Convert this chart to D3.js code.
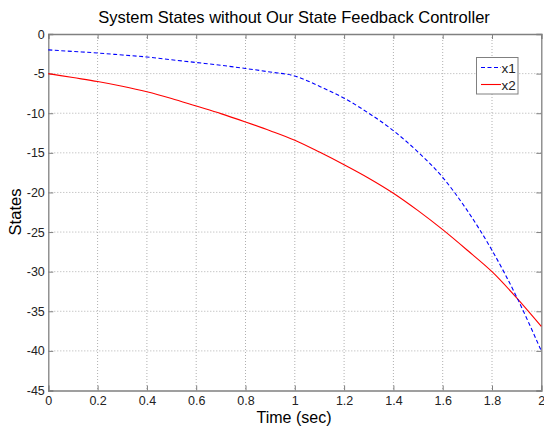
<!DOCTYPE html>
<html><head><meta charset="utf-8">
<script src="https://cdn.jsdelivr.net/npm/d3@7"></script>
<style>body{margin:0;background:#fff;} svg{display:block;font-family:"Liberation Sans",Arial,sans-serif;}</style>
</head><body>
<svg id="c" width="544" height="428"></svg>
<script>
const title = "System States without Our State Feedback Controller";
const xLabel = "Time (sec)";
const yLabel = "States";
const seriesNames = ["x1", "x2"];
const time = [0, 0.1, 0.2, 0.3, 0.4, 0.5, 0.6, 0.7, 0.8, 0.9, 1.0, 1.1, 1.2, 1.3, 1.4, 1.5, 1.6, 1.7, 1.8, 1.9, 2.0];
const x1 = [-2.0, -2.2, -2.4, -2.65, -2.9, -3.25, -3.6, -3.95, -4.35, -4.8, -5.3, -6.6, -8.1, -10.0, -12.2, -14.9, -18.1, -22.3, -27.3, -33.2, -40.0];
const x2 = [-5.0, -5.5, -6.0, -6.6, -7.3, -8.15, -9.1, -10.05, -11.1, -12.2, -13.4, -14.9, -16.5, -18.2, -20.1, -22.3, -24.7, -27.3, -30.0, -33.3, -36.9];
const xTicks = [0, 0.2, 0.4, 0.6, 0.8, 1, 1.2, 1.4, 1.6, 1.8, 2];
const yTicks = [0, -5, -10, -15, -20, -25, -30, -35, -40, -45];

const L = 48.3, R = 541.3, T = 34, B = 390.5;
const svg = d3.select("#c");
const x = d3.scaleLinear().domain([0, 2]).range([L, R]);
const y = d3.scaleLinear().domain([-45, 0]).range([B, T]);
const grid = "#b0b0b0", axisCol = "#808080";

// grid
const g = svg.append("g");
g.selectAll(".gx").data(xTicks.slice(1, -1)).join("line")
  .attr("x1", d => x(d)).attr("x2", d => x(d)).attr("y1", T).attr("y2", B)
  .attr("stroke", grid).attr("stroke-width", 1).attr("stroke-dasharray", "1,2");
g.selectAll(".gy").data(yTicks.slice(1, -1)).join("line")
  .attr("y1", d => y(d)).attr("y2", d => y(d)).attr("x1", L).attr("x2", R)
  .attr("stroke", grid).attr("stroke-width", 1).attr("stroke-dasharray", "1,2");

// axes
const fmt = d => String(d);
const ax = svg.append("g").attr("transform", `translate(0,${B})`)
  .call(d3.axisBottom(x).tickValues(xTicks).tickFormat(fmt).tickSize(-5).tickPadding(5.5));
const ay = svg.append("g").attr("transform", `translate(${L},0)`)
  .call(d3.axisLeft(y).tickValues(yTicks).tickFormat(fmt).tickSize(-5).tickPadding(3.5));
const axT = svg.append("g").attr("transform", `translate(0,${T})`)
  .call(d3.axisTop(x).tickValues(xTicks).tickFormat("").tickSize(-5));
const ayR = svg.append("g").attr("transform", `translate(${R},0)`)
  .call(d3.axisRight(y).tickValues(yTicks).tickFormat("").tickSize(-5));
[ax, ay, axT, ayR].forEach(a => {
  a.selectAll("path").attr("stroke", axisCol).attr("stroke-width", 1.3);
  a.selectAll("line").attr("stroke", axisCol);
  a.selectAll("text").attr("fill", "#222").style("font-size", "12.5px").style("font-family", "Liberation Sans, Arial, sans-serif");
});
ax.selectAll("text").attr("dy", "0.71em");

// lines
const line = d3.line().x((d, i) => x(time[i])).y(d => y(d)).curve(d3.curveMonotoneX);
svg.append("path").datum(x2).attr("d", line).attr("fill", "none").attr("stroke", "#ff0000").attr("stroke-width", 1.1);
svg.append("path").datum(x1).attr("d", line).attr("fill", "none").attr("stroke", "#0000ff").attr("stroke-width", 1.1).attr("stroke-dasharray", "4,2.5");

// legend
const lg = svg.append("g");
lg.append("rect").attr("x", 476.5).attr("y", 57.5).attr("width", 41.5).attr("height", 36.5)
  .attr("fill", "#fff").attr("stroke", "#808080").attr("stroke-width", 1);
const cols = ["#0000ff", "#ff0000"], dash = ["4,2.5", null];
seriesNames.forEach((n, i) => {
  const yy = 67.5 + i * 17;
  lg.append("line").attr("x1", 481).attr("x2", 501).attr("y1", yy).attr("y2", yy)
    .attr("stroke", cols[i]).attr("stroke-width", 1.1).attr("stroke-dasharray", dash[i]);
  lg.append("text").attr("x", 501.5).attr("y", yy + 5).text(n).style("font-size", "13.5px").attr("fill", "#222");
});

// titles
svg.append("text").attr("x", 294).attr("y", 23).attr("text-anchor", "middle").style("font-size", "16.5px").text(title);
svg.append("text").attr("x", 294).attr("y", 422.5).attr("text-anchor", "middle").style("font-size", "16px").text(xLabel);
svg.append("text").attr("transform", "translate(21,212) rotate(-90)").attr("text-anchor", "middle").style("font-size", "16.5px").text(yLabel);
</script>
</body></html>
